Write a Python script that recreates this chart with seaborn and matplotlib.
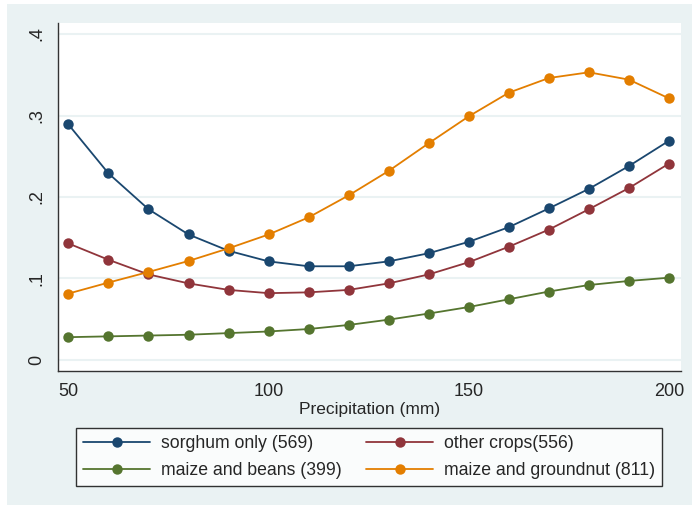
import matplotlib.pyplot as plt
import matplotlib.patches as mpatches
import seaborn as sns
import pandas as pd

sns.set_style("white")
plt.rcParams['font.family'] = ['Liberation Sans', 'DejaVu Sans']

precip = [50, 60, 70, 80, 90, 100, 110, 120, 130, 140, 150, 160, 170, 180, 190, 200]
sorghum = [0.289, 0.229, 0.185, 0.154, 0.134, 0.121, 0.115, 0.115, 0.121, 0.131,
           0.145, 0.163, 0.186, 0.210, 0.238, 0.269]
other = [0.143, 0.123, 0.105, 0.094, 0.086, 0.082, 0.083, 0.086, 0.094, 0.105,
         0.120, 0.139, 0.160, 0.185, 0.211, 0.241]
beans = [0.028, 0.029, 0.030, 0.031, 0.033, 0.035, 0.038, 0.043, 0.0495, 0.057,
         0.065, 0.0745, 0.084, 0.092, 0.097, 0.101]
groundnut = [0.0815, 0.095, 0.108, 0.1215, 0.137, 0.154, 0.175, 0.202, 0.232, 0.266,
             0.299, 0.328, 0.346, 0.353, 0.344, 0.321]

names = ["sorghum only (569)", "other crops(556)", "maize and beans (399)",
         "maize and groundnut (811)"]
colors = ["#1a476f", "#90353b", "#55752f", "#e37e00"]
yticks = [0, 0.1, 0.2, 0.3, 0.4]
ytick_labels = ["0", ".1", ".2", ".3", ".4"]
xticks = [50, 100, 150, 200]

frames = []
for name, vals in zip(names, [sorghum, other, beans, groundnut]):
    frames.append(pd.DataFrame({"precip": precip, "share": vals, "group": name}))
df = pd.concat(frames, ignore_index=True)

fig = plt.figure(figsize=(6.92, 5.05), dpi=100)
fig.patch.set_facecolor("white")
fig.patches.append(mpatches.Rectangle((7 / 692, 0), 685 / 692, 501 / 505,
                                      transform=fig.transFigure, facecolor="#eaf2f3",
                                      edgecolor="none", zorder=-10))

ax = fig.add_axes([58 / 692, 1 - 371 / 505, 623 / 692, 348 / 505])
ax.set_facecolor("white")

sns.lineplot(data=df, x="precip", y="share", hue="group", hue_order=names,
             palette=colors, marker="o", markersize=7.5, markeredgewidth=0,
             linewidth=1.3, ax=ax, legend=False)

ax.set_xlim(47.4, 203)
ax.set_ylim(-0.0135, 0.4135)
ax.set_xticks(xticks)
ax.set_yticks(yticks)
ax.set_yticklabels(ytick_labels, rotation=90, va="center")
ax.tick_params(axis="both", direction="out", length=5, width=1, color="#333333",
               labelsize=13, pad=4)
ax.grid(axis="y", color="#eaf2f3", linewidth=1.5)
ax.set_axisbelow(True)
for s in ["top", "right"]:
    ax.spines[s].set_visible(False)
for s in ["left", "bottom"]:
    ax.spines[s].set_color("#333333")
    ax.spines[s].set_linewidth(1.0)
ax.set_xlabel("Precipitation (mm)", fontsize=12.5, labelpad=1)
ax.set_ylabel("")

handles = [plt.Line2D([], [], color=c, marker="o", markersize=7.5, markeredgewidth=0,
                      linewidth=1.3) for c in colors]
order = [0, 2, 1, 3]
leg = fig.legend([handles[i] for i in order], [names[i] for i in order], ncol=2,
                 loc="upper left", bbox_to_anchor=(76 / 692, 1 - 428 / 505),
                 fontsize=12.7, frameon=True, fancybox=False, handlelength=3.8,
                 borderaxespad=0, borderpad=0.4, labelspacing=0.55,
                 columnspacing=1.4, handletextpad=0.6)
leg.get_frame().set_edgecolor("black")
leg.get_frame().set_linewidth(1.0)
leg.get_frame().set_facecolor("white")

fig.savefig("out.png", dpi=100)
